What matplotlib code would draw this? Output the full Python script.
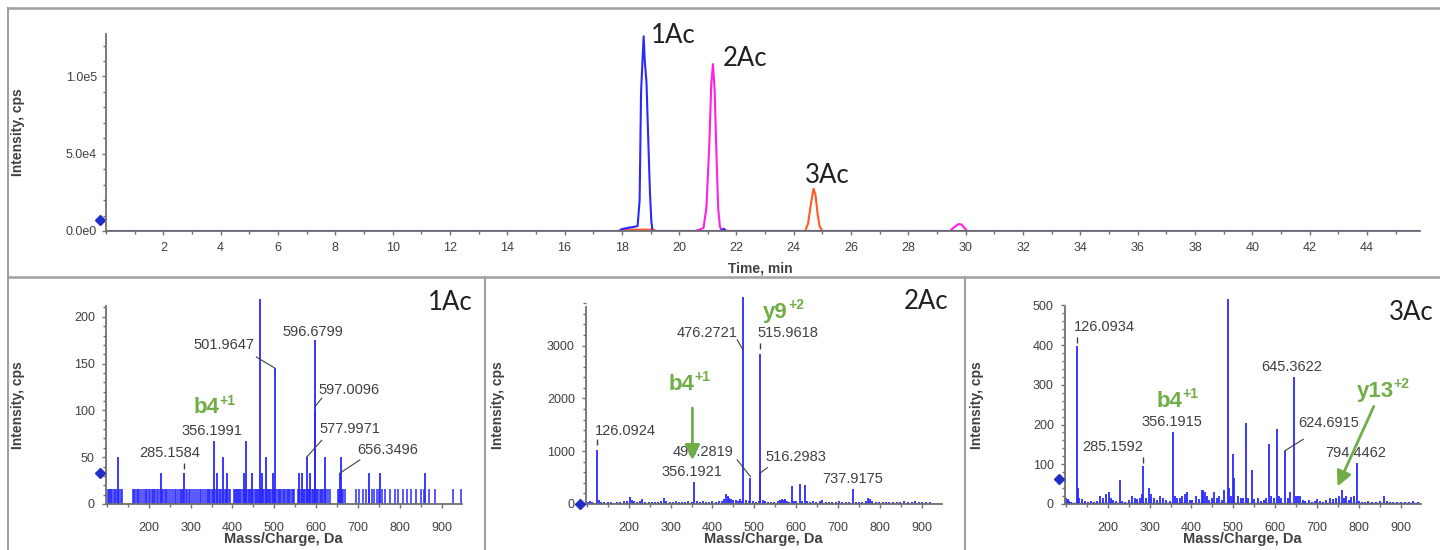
import matplotlib.pyplot as plt
from matplotlib.lines import Line2D
from matplotlib.ticker import MultipleLocator, FixedFormatter, FixedLocator

plt.rcParams['font.family'] = ['Liberation Sans', 'DejaVu Sans']

BLUE = '#2a2aff'
PINK = '#ff20e0'
ORANGE = '#ff5a28'
GREEN = '#70ad47'
GREY = '#404040'

# --- chromatogram (time, min / intensity, cps) ---
t_1ac = [0.0, 17.9, 18.0, 18.2, 18.4, 18.55, 18.62, 18.67, 18.71, 18.76, 18.8, 18.86,
         18.92, 18.98, 19.03, 19.07, 21.45, 21.55, 21.65, 45.85]
i_1ac = [0, 0, 1200, 2000, 2600, 3200, 20000, 90000, 106000, 126000, 110000, 96000,
         60000, 25000, 6000, 0, 0, 1500, 0, 0]
t_2ac = [20.55, 20.7, 20.85, 20.95, 21.05, 21.12, 21.18, 21.24, 21.3, 21.36, 21.42, 21.48,
         29.45, 29.6, 29.75, 29.85, 29.95, 30.05]
i_2ac = [0, 800, 2000, 15000, 55000, 95000, 108000, 90000, 50000, 15000, 3000, 0,
         0, 2500, 4500, 4200, 2000, 0]
t_3ac = [17.95, 18.05, 19.1, 19.2, 24.4, 24.5, 24.6, 24.69, 24.76, 24.83, 24.9, 25.0]
i_3ac = [0, 900, 900, 0, 0, 5000, 18000, 27400, 23000, 11000, 3000, 0]

# --- MS/MS spectra (m/z, intensity) ---
mz_1 = [127, 228.5, 285.16, 356.2, 362, 378, 386, 427, 432, 447, 465.5, 471, 479, 497,
        501.96, 560, 566, 577.99, 585, 596.68, 597.01, 622, 656.35, 660, 726, 752, 859]
in_1 = [50, 33, 33, 67, 33, 50, 33, 33, 67, 33, 219, 33, 50, 33,
        145, 33, 33, 50, 33, 175, 100, 50, 33, 50, 33, 33, 33]
noise_mz_1 = [102, 104, 107, 110, 113, 116, 119, 123, 126, 129, 133, 136,
              162, 165, 168, 171, 174, 177, 181, 186, 190, 193, 197, 201, 204, 207, 210,
              213, 216, 219, 222, 226, 231, 235, 238, 241, 244, 248,
              253, 257, 262, 266, 270, 274, 277, 280, 283, 288, 292, 296, 299,
              303, 308, 314, 318, 322, 326, 330, 334, 338, 341, 344, 347, 350, 354, 359,
              363, 367, 370, 373, 377, 381, 384, 388, 391, 395,
              403, 405, 408, 411, 413, 416, 419, 421, 424, 427, 430, 433, 436, 439, 441,
              444, 447, 450, 453, 456, 458, 461, 464, 467, 470, 473, 476, 479, 482, 485,
              488, 490, 493, 496, 499, 502, 505, 508, 511, 514, 517, 520, 523, 526, 529,
              532, 535, 538, 541, 544, 547,
              556, 559, 562, 565, 568, 571, 574, 577, 580, 583, 586, 589, 592, 595, 599,
              602, 605, 608, 611, 614, 617, 620, 624, 628, 632,
              652, 655, 658, 661, 664, 668,
              694, 703, 712, 719, 726, 733, 738, 744, 750, 756, 763, 776, 788, 794, 807,
              816, 826, 838, 849, 857, 869, 884, 926, 946]
noise_in_1 = 16

mz_2 = [102, 108, 112, 118, 123.5, 130, 135, 142, 150, 158, 165, 172, 180, 188, 196, 203,
        207, 212, 220, 228, 232, 240, 248, 256, 262, 270, 278, 285, 290, 298, 305, 312,
        320, 328, 335, 342, 350, 355.8, 362, 370, 378, 385, 392, 400, 408, 415, 422, 428,
        432, 436, 440, 445, 450, 455, 460, 466, 470, 473.4, 480, 486, 489, 497, 503, 510,
        513, 514, 520, 525, 532, 540, 548, 556, 562, 566, 570, 574, 578, 583, 589, 594,
        600, 608.7, 614, 620.7, 626, 632, 640, 648, 656, 662, 670, 678, 686, 694, 702,
        710, 718, 726, 734.5, 742, 750, 758, 766, 772, 776, 782, 790, 798, 806, 814, 822,
        830, 840, 848, 858, 866, 876, 884, 892, 900, 910, 920, 930]
in_2 = [30, 60, 40, 20, 1025, 80, 40, 30, 40, 30, 20, 40, 30, 50, 60, 130,
        80, 50, 40, 60, 100, 40, 30, 40, 30, 40, 50, 120, 60, 40, 30, 50,
        40, 30, 40, 50, 30, 410, 60, 40, 50, 30, 40, 50, 40, 50, 60, 100,
        180, 160, 120, 90, 70, 80, 60, 90, 60, 3920, 80, 60, 500, 60, 40, 50,
        2850, 600, 80, 50, 40, 30, 40, 60, 70, 90, 80, 100, 60, 40, 350, 60,
        50, 370, 60, 360, 50, 40, 60, 30, 50, 70, 40, 30, 40, 30, 60,
        40, 30, 40, 275, 40, 30, 40, 60, 120, 100, 50, 40, 30, 40, 30, 40,
        30, 40, 30, 50, 30, 40, 60, 30, 40, 30, 30, 20]

mz_3 = [101, 104, 108, 112, 126.09, 128.5, 132, 138, 145, 152, 160, 168, 175, 182, 188,
        196, 202, 207, 212, 220, 229, 235, 242, 250, 258, 264, 270, 276, 282, 285.16, 292,
        298, 303, 310, 318, 325, 332, 340, 348, 356.19, 360, 366, 372, 378, 384, 390, 396,
        402, 410, 418, 424, 428, 432, 436, 442, 448, 454, 460, 466, 472, 478, 486, 490,
        494, 498, 502, 510, 518, 524, 529, 535, 543.6, 550, 558, 565, 572, 578, 585.6,
        590, 596, 603, 608, 614, 623, 630, 636, 644.5, 650, 655, 660, 666, 672, 680, 688,
        694, 700, 708, 715, 722, 730, 738, 745, 752, 760, 765, 770, 776, 782, 788, 794.45,
        800, 808, 815, 822, 830, 840, 850, 860, 866, 874, 882, 890, 900, 910, 920, 930, 940]
in_3 = [15, 12, 8, 5, 398, 40, 15, 12, 8, 5, 8, 5, 8, 20, 15,
        25, 30, 15, 10, 8, 60, 8, 5, 10, 20, 15, 12, 15, 25, 95, 15,
        40, 25, 15, 10, 20, 15, 10, 8, 181, 20, 15, 15, 20, 25, 30, 10,
        10, 20, 12, 35, 35, 30, 20, 10, 15, 30, 15, 20, 10, 35, 516, 40,
        20, 125, 65, 20, 15, 15, 203, 15, 86, 12, 15, 8, 10, 15, 152,
        20, 15, 189, 20, 15, 134, 15, 30, 320, 20, 20, 20, 10, 8, 10, 5,
        8, 12, 8, 5, 10, 15, 12, 15, 20, 35, 15, 20, 10, 18, 20, 104,
        8, 5, 5, 8, 5, 5, 8, 20, 8, 5, 5, 5, 5, 5, 5, 8, 5]

fig = plt.figure(figsize=(14.4, 5.5), dpi=100)
W, H = 1440, 550


def style(ax, fs=9):
    for s in ['top', 'right']:
        ax.spines[s].set_visible(False)
    for s in ['left', 'bottom']:
        ax.spines[s].set_color('#707070')
        ax.spines[s].set_linewidth(1.3)
    ax.tick_params(which='both', direction='out', colors='#707070', labelcolor=GREY,
                   labelsize=fs, width=1)
    ax.tick_params(which='major', length=3)
    ax.tick_params(which='minor', length=2)


# ---------------- chromatogram ----------------
ax = fig.add_axes([106 / W, 1 - 231 / H, (1420 - 106) / W, 197 / H])
ax.plot(t_3ac, i_3ac, color=ORANGE, lw=1.5)
ax.plot(t_2ac, i_2ac, color=PINK, lw=1.5)
ax.plot(t_1ac, i_1ac, color=BLUE, lw=1.5)
ax.set_xlim(0, 45.85)
ax.set_ylim(0, 127500)
style(ax)
ax.xaxis.set_major_locator(FixedLocator(list(range(2, 46, 2))))
ax.xaxis.set_minor_locator(MultipleLocator(1))
ax.yaxis.set_major_locator(FixedLocator([0, 50000, 100000]))
ax.yaxis.set_major_formatter(FixedFormatter(['0.0e0', '5.0e4', '1.0e5']))
ax.yaxis.set_minor_locator(MultipleLocator(10000))
ax.tick_params(axis='x', pad=5)
ax.set_xlabel('Time, min', fontsize=10, fontweight='bold', color=GREY)
ax.set_ylabel('Intensity, cps', fontsize=10, fontweight='bold', color=GREY)
ax.xaxis.set_label_coords(0.4977, -0.155)
ax.yaxis.set_label_coords(-(106 - 25) / 1314, 0.5)
ax.plot([-6 / 1314], [7000], marker='D', ms=5, color='#1f2fc8', clip_on=False,
        transform=ax.get_yaxis_transform())
for txt, x, y in [('1Ac', 19.0, 126600), ('2Ac', 21.52, 111500), ('3Ac', 24.4, 36200)]:
    ax.text(x, y, txt, fontsize=18.5, color='#202020', ha='left', va='center',
            family=['Lato', 'DejaVu Sans'])


# ---------------- spectra ----------------
def spectrum(left_px, top_px, mz, inten, ytop, spine_top, ymajor, yminor, thr):
    a = fig.add_axes([left_px / W, 1 - 504 / H, 356 / W, (504 - top_px) / H])
    a.vlines(mz, 0, inten, color=BLUE, lw=1.3)
    a.set_xlim(98, 948)
    a.set_ylim(0, ytop)
    style(a)
    a.spines['left'].set_bounds(0, spine_top)
    a.xaxis.set_major_locator(FixedLocator(list(range(200, 1000, 100))))
    a.xaxis.set_minor_locator(MultipleLocator(50))
    a.yaxis.set_major_locator(MultipleLocator(ymajor))
    a.yaxis.set_minor_locator(MultipleLocator(yminor))
    a.tick_params(axis='x', pad=10)
    a.tick_params(axis='y', pad=5)
    a.set_xlabel('Mass/Charge, Da', fontsize=10.5, fontweight='bold', color=GREY)
    a.set_ylabel('Intensity, cps', fontsize=10, fontweight='bold', color=GREY)
    a.xaxis.set_label_coords(0.497, -0.135)
    a.yaxis.set_label_coords(-(106 - 25) / 356, 0.48)
    a.plot([-6 / 356], [thr], marker='D', ms=5, color='#1f2fc8', clip_on=False,
           transform=a.get_yaxis_transform(), zorder=5)
    return a


def lab(a, x, y, s):
    a.text(x, y, s, fontsize=10.5, color=GREY, ha='center', va='center')


def lead(a, x0, y0, x1, y1):
    a.plot([x0, x1], [y0, y1], color=GREY, lw=0.8)


def green(a, x, y, base, sup):
    t = a.text(x, y, base, color=GREEN, fontsize=16, fontweight='bold', ha='left',
               va='baseline')
    a.annotate(sup, xy=(1.0, 0.5), xycoords=t, fontsize=10, fontweight='bold',
               color=GREEN, ha='left', va='bottom')


# panel 1Ac
a1 = spectrum(106, 299, mz_1, in_1, 219, 212, 50, 10, 33)
a1.vlines(noise_mz_1, 0, noise_in_1, color=BLUE, lw=1.1)
lab(a1, 249, 55, '285.1584')
a1.plot([285.16], [41], marker='|', ms=4, color=GREY)
lab(a1, 351, 78, '356.1991')
lab(a1, 380, 170, '501.9647')
lead(a1, 457, 157, 502, 145)
lab(a1, 592, 184, '596.6799')
lab(a1, 679, 122, '597.0096')
lead(a1, 597, 104, 613, 113)
lab(a1, 680, 80, '577.9971')
lead(a1, 577, 50, 613, 68)
lab(a1, 770, 58, '656.3496')
lead(a1, 656.5, 33, 704, 47)
green(a1, 306, 97, 'b4', '+1')

# panel 2Ac
a2 = spectrum(586, 297, mz_2, in_2, 3920, 3740, 1000, 200, 0)
a2.axhline(8, xmin=0, xmax=0.995, color=BLUE, lw=1)
lab(a2, 192, 1389, '126.0924')
a2.plot([123.5], [1170], marker='|', ms=4, color=GREY)
lab(a2, 351, 612, '356.1921')
lab(a2, 378, 991, '493.2819')
lead(a2, 459, 834, 491, 517)
lab(a2, 386, 3234, '476.2721')
lead(a2, 459, 3107, 473, 2918)
lab(a2, 581, 3234, '515.9618')
a2.plot([513], [2990], marker='|', ms=4, color=GREY)
lab(a2, 600, 885, '516.2983')
lead(a2, 515, 593, 531, 688)
lab(a2, 735, 468, '737.9175')
green(a2, 294, 2160, 'b4', '+1')
green(a2, 521, 3530, 'y9', '+2')
a2.annotate('', xy=(352, 780), xytext=(352, 1870),
            arrowprops=dict(arrowstyle='-|>,head_width=0.45,head_length=0.9',
                            color=GREEN, lw=2))

# panel 3Ac
a3 = spectrum(1065, 299, mz_3, in_3, 516, 496, 100, 20, 62)
a3.axhline(1.5, xmin=0, xmax=0.995, color=BLUE, lw=1)
lab(a3, 192, 446, '126.0934')
a3.plot([126.09], [414], marker='|', ms=4, color=GREY)
lab(a3, 213, 144, '285.1592')
a3.plot([285.16], [110], marker='|', ms=4, color=GREY)
lab(a3, 354, 207, '356.1915')
lab(a3, 640, 345, '645.3622')
lab(a3, 728, 205, '624.6915')
lead(a3, 623, 134, 667, 163)
lab(a3, 791, 129, '794.4462')
green(a3, 317, 245, 'b4', '+1')
green(a3, 794, 270, 'y13', '+2')
a3.annotate('', xy=(746, 38), xytext=(838, 252),
            arrowprops=dict(arrowstyle='-|>,head_width=0.45,head_length=0.9',
                            color=GREEN, lw=2))

# panel names
for txt, x, y in [('1Ac', 472.7, 302.8), ('2Ac', 948.3, 301.5), ('3Ac', 1433.3, 312.5)]:
    fig.text(x / W, 1 - y / H, txt, fontsize=18.5, color='#202020', ha='right', va='center',
             family=['Lato', 'DejaVu Sans'])

# frame lines
fc = '#a0a0a0'
fig.add_artist(Line2D([8 / W, 1], [1 - 8 / H, 1 - 8 / H], transform=fig.transFigure, color=fc, lw=1.8))
fig.add_artist(Line2D([8 / W, 8 / W], [0, 1 - 8 / H], transform=fig.transFigure, color=fc, lw=1.5))
fig.add_artist(Line2D([8 / W, 1], [1 - 277 / H, 1 - 277 / H], transform=fig.transFigure, color=fc, lw=1.8))
for xv in [485, 965]:
    fig.add_artist(Line2D([xv / W, xv / W], [0, 1 - 277 / H], transform=fig.transFigure, color=fc, lw=1.5))

fig.savefig('out.png', dpi=100)
